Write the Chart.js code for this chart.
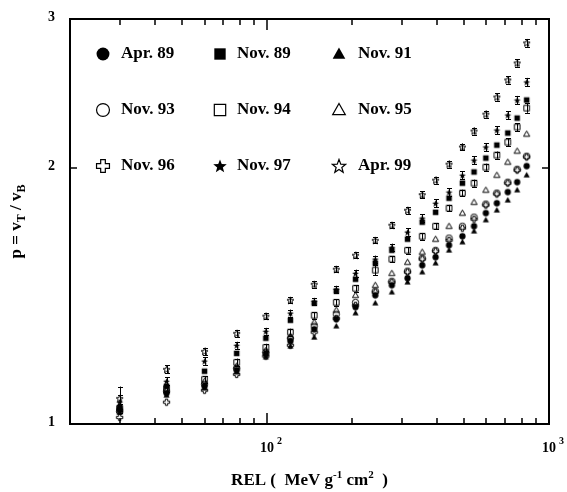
<!DOCTYPE html>
<html lang="en">
<head>
<meta charset="UTF-8" />
<title>p = vT / vB versus REL</title>
<script src="https://cdn.jsdelivr.net/npm/chart.js"></script>
<style>
  body { margin: 0; background: #fff; }
  #chart { display: block; }
</style>
</head>
<body>
<canvas id="chart" width="567" height="492"></canvas>
<script>
// REL (MeV g^-1 cm^2) of each measured column
var rel = [30, 44, 60, 78, 99, 121, 147, 176, 206, 242, 277, 315, 355, 396, 442, 493, 542, 597, 653, 714, 771, 833];

// p = vT / vB for each exposure
var apr89 = [1.041, 1.087, 1.108, 1.157, 1.208, 1.252, 1.293, 1.329, 1.373, 1.418, 1.457, 1.485, 1.538, 1.572, 1.624, 1.664, 1.710, 1.772, 1.820, 1.876, 1.927, 2.013];
var nov89 = [1.046, 1.108, 1.154, 1.211, 1.262, 1.325, 1.388, 1.434, 1.481, 1.547, 1.602, 1.651, 1.729, 1.776, 1.845, 1.922, 1.981, 2.057, 2.131, 2.202, 2.293, 2.408];
var nov91 = [1.032, 1.081, 1.102, 1.151, 1.199, 1.235, 1.265, 1.304, 1.351, 1.388, 1.430, 1.469, 1.510, 1.547, 1.602, 1.638, 1.687, 1.739, 1.786, 1.835, 1.886, 1.964];
var nov93 = [1.035, 1.093, 1.114, 1.163, 1.215, 1.262, 1.304, 1.347, 1.391, 1.434, 1.473, 1.514, 1.568, 1.602, 1.656, 1.710, 1.753, 1.816, 1.871, 1.927, 1.996, 2.068];
var nov94 = [1.043, 1.102, 1.129, 1.182, 1.231, 1.283, 1.343, 1.391, 1.445, 1.518, 1.564, 1.602, 1.664, 1.710, 1.796, 1.871, 1.922, 2.007, 2.074, 2.148, 2.238, 2.356];
var nov95 = [1.038, 1.096, 1.123, 1.170, 1.221, 1.269, 1.318, 1.362, 1.418, 1.457, 1.505, 1.551, 1.594, 1.651, 1.710, 1.772, 1.825, 1.886, 1.964, 2.035, 2.097, 2.196];
var nov96 = [1.018, 1.061, 1.096, 1.144, 1.202, 1.238, 1.283, 1.332, 1.380, 1.430, 1.469, 1.510, 1.564, 1.598, 1.646, 1.701, 1.743, 1.811, 1.866, 1.922, 1.991, 2.063];
var nov97 = [1.061, 1.123, 1.186, 1.238, 1.286, 1.351, 1.395, 1.441, 1.505, 1.564, 1.615, 1.683, 1.748, 1.820, 1.876, 1.964, 2.046, 2.120, 2.220, 2.312, 2.408, 2.529];
var apr99 = [1.072, 1.160, 1.218, 1.279, 1.340, 1.399, 1.461, 1.522, 1.581, 1.646, 1.715, 1.786, 1.863, 1.938, 2.024, 2.120, 2.214, 2.318, 2.428, 2.543, 2.663, 2.812];

// error bars (absolute)
var errApr99 = [0.035, 0.012, 0.012, 0.012, 0.012, 0.012, 0.013, 0.013, 0.014, 0.014, 0.015, 0.016, 0.017, 0.018, 0.019, 0.020, 0.021, 0.022, 0.024, 0.025, 0.027, 0.030];
var errNov97 = [0.020, 0.012, 0.012, 0.012, 0.012, 0.013, 0.013, 0.014, 0.015, 0.015, 0.016, 0.017, 0.018, 0.019, 0.020, 0.021, 0.022, 0.023, 0.024, 0.025, 0.027, 0.028];
var errNov94 = [0.012, 0.010, 0.010, 0.012, 0.012, 0.012, 0.012, 0.012, 0.013, 0.020, 0.013, 0.014, 0.015, 0.015, 0.016, 0.017, 0.018, 0.019, 0.020, 0.022, 0.024, 0.030];

// axis ticks
var xMajor = [100, 1000];
var xMajorExp = ["2", "3"];
var xMinor = [30, 40, 50, 60, 70, 80, 90, 200, 300, 400, 500, 600, 700, 800, 900];
var yLabels = [1, 2, 3];

// legend, row by row
var seriesNames = ["Apr. 89", "Nov. 89", "Nov. 91", "Nov. 93", "Nov. 94", "Nov. 95", "Nov. 96", "Nov. 97", "Apr. 99"];
var seriesShapes = ["circle", "square", "triangle", "circle", "square", "triangle", "cross", "star", "star"];
var seriesFilled = [true, true, true, false, false, false, false, true, false];
var seriesValues = [apr89, nov89, nov91, nov93, nov94, nov95, nov96, nov97, apr99];
var seriesErrors = [null, null, null, null, errNov94, null, null, errNov97, errApr99];

var FONT = "'Liberation Serif', 'Times New Roman', serif";

// draw a marker on its own small canvas, used as pointStyle
function makeMarker(shape, filled, size, lw, scale) {
  var c = document.createElement("canvas");
  c.width = size;
  c.height = size;
  var g = c.getContext("2d");
  var m = size / 2;
  var r = (size / 2 - lw) * (scale || 1);
  g.strokeStyle = "#000";
  g.fillStyle = "#000";
  g.lineWidth = lw;
  g.lineJoin = "miter";
  g.beginPath();
  if (shape === "circle") {
    g.arc(m, m, r, 0, Math.PI * 2);
  } else if (shape === "square") {
    g.rect(m - r * 0.88, m - r * 0.88, r * 1.76, r * 1.76);
  } else if (shape === "triangle") {
    g.moveTo(m, m - r);
    g.lineTo(m + r * 0.98, m + r * 0.72);
    g.lineTo(m - r * 0.98, m + r * 0.72);
    g.closePath();
  } else if (shape === "cross") {
    var w = r * 0.36;
    var pts = [[-w, -r], [w, -r], [w, -w], [r, -w], [r, w], [w, w], [w, r], [-w, r], [-w, w], [-r, w], [-r, -w], [-w, -w]];
    pts.forEach(function (p, i) {
      if (i === 0) g.moveTo(m + p[0], m + p[1]);
      else g.lineTo(m + p[0], m + p[1]);
    });
    g.closePath();
  } else if (shape === "star") {
    for (var i = 0; i < 10; i++) {
      var rr = i % 2 === 0 ? r : r * 0.42;
      var a = -Math.PI / 2 + (i * Math.PI) / 5;
      var px = m + rr * Math.cos(a);
      var py = m + 0.5 + rr * Math.sin(a);
      if (i === 0) g.moveTo(px, py);
      else g.lineTo(px, py);
    }
    g.closePath();
  }
  if (filled) g.fill();
  else g.stroke();
  return c;
}

var datasets = seriesNames.map(function (name, i) {
  var big = seriesShapes[i] === "star" ? 1.15 : 1;
  return {
    label: name,
    data: rel.map(function (x, j) {
      return { x: x, y: seriesValues[i][j] };
    }),
    pointStyle: makeMarker(seriesShapes[i], seriesFilled[i], 9, 1, big * 0.9),
    showLine: false,
    errors: seriesErrors[i]
  };
});

// error bars from the data arrays
var errorBars = {
  id: "errorBars",
  afterDatasetsDraw: function (chart) {
    var ctx = chart.ctx;
    var xs = chart.scales.x;
    var ys = chart.scales.y;
    ctx.save();
    ctx.strokeStyle = "#000";
    ctx.lineWidth = 1;
    chart.data.datasets.forEach(function (ds) {
      if (!ds.errors) return;
      ds.data.forEach(function (p, j) {
        var e = ds.errors[j];
        var px = Math.round(xs.getPixelForValue(p.x)) + 0.5;
        var y1 = ys.getPixelForValue(p.y + e);
        var y2 = ys.getPixelForValue(p.y - e);
        ctx.beginPath();
        ctx.moveTo(px, y1);
        ctx.lineTo(px, y2);
        ctx.moveTo(px - 2.5, Math.round(y1) + 0.5);
        ctx.lineTo(px + 2.5, Math.round(y1) + 0.5);
        ctx.moveTo(px - 2.5, Math.round(y2) + 0.5);
        ctx.lineTo(px + 2.5, Math.round(y2) + 0.5);
        ctx.stroke();
      });
    });
    ctx.restore();
  }
};

// text with super/subscripts, parts: [text, size, shift]
function drawParts(ctx, parts, x, y, align) {
  var total = 0;
  parts.forEach(function (p) {
    ctx.font = "bold " + p[1] + "px " + FONT;
    total += ctx.measureText(p[0]).width;
  });
  var cx = align === "center" ? x - total / 2 : x;
  ctx.textAlign = "left";
  ctx.textBaseline = "alphabetic";
  parts.forEach(function (p) {
    ctx.font = "bold " + p[1] + "px " + FONT;
    ctx.fillText(p[0], cx, y + p[2]);
    cx += ctx.measureText(p[0]).width;
  });
}

// frame, inward ticks, labels, titles, legend
var frame = {
  id: "frame",
  afterDraw: function (chart) {
    var ctx = chart.ctx;
    var a = chart.chartArea;
    var xs = chart.scales.x;
    var ys = chart.scales.y;
    ctx.save();
    ctx.fillStyle = "#000";
    ctx.strokeStyle = "#000";

    ctx.lineWidth = 2;
    ctx.strokeRect(a.left, a.top, a.right - a.left, a.bottom - a.top);

    // x ticks, top and bottom, pointing in
    var xt = xMinor.concat(xMajor);
    for (var k = 0; k < xt.length; k++) {
      var tx = Math.round(xs.getPixelForValue(xt[k]));
      var len = xMajor.indexOf(xt[k]) >= 0 ? 11 : 6;
      ctx.fillRect(tx - 0.75, a.bottom - len, 1.5, len);
      ctx.fillRect(tx - 0.75, a.top, 1.5, len);
    }
    // y ticks, left and right
    yLabels.forEach(function (v) {
      var ty = Math.round(ys.getPixelForValue(v));
      ctx.fillRect(a.left, ty - 0.75, 7, 1.5);
      ctx.fillRect(a.right - 7, ty - 0.75, 7, 1.5);
    });

    // y tick labels
    ctx.font = "bold 14px " + FONT;
    ctx.textAlign = "right";
    ctx.textBaseline = "middle";
    yLabels.forEach(function (v) {
      ctx.fillText(String(v), 55, ys.getPixelForValue(v) - 2);
    });

    // x tick labels 10^n
    xMajor.forEach(function (v, i) {
      var px = xs.getPixelForValue(v);
      ctx.font = "bold 14px " + FONT;
      ctx.textAlign = "center";
      ctx.textBaseline = "alphabetic";
      ctx.fillText("10", px, 452);
      ctx.font = "bold 10px " + FONT;
      ctx.textAlign = "left";
      ctx.fillText(xMajorExp[i], px + 10, 444);
    });

    // axis titles
    drawParts(ctx, [["REL", 17, 0], [" (  MeV g", 17, 0], ["-1", 11, -7], [" cm", 17, 0], ["2", 11, -7], ["  )", 17, 0]], (a.left + a.right) / 2, 485, "center");

    ctx.save();
    ctx.translate(21, (a.top + a.bottom) / 2);
    ctx.rotate(-Math.PI / 2);
    drawParts(ctx, [["p = v", 17, 0], ["T", 12, 4], [" / v", 17, 0], ["B", 12, 4]], 0, 0, "center");
    ctx.restore();

    // legend, 3 x 3
    var colMarker = [103, 220, 339];
    var colText = [121, 237, 358];
    var rowY = [54, 110, 166];
    seriesNames.forEach(function (name, i) {
      var r = Math.floor(i / 3);
      var c = i % 3;
      var big = seriesShapes[i] === "star" ? 1.1 : 1;
      var img = makeMarker(seriesShapes[i], seriesFilled[i], 16, 1.2, big * 0.95);
      ctx.drawImage(img, colMarker[c] - 8, rowY[r] - 8);
      ctx.font = "bold 17px " + FONT;
      ctx.textAlign = "left";
      ctx.textBaseline = "middle";
      ctx.fillText(name, colText[c], rowY[r]);
    });

    ctx.restore();
  }
};

new Chart(document.getElementById("chart"), {
  type: "scatter",
  data: { datasets: datasets },
  options: {
    responsive: false,
    animation: false,
    layout: { padding: { left: 70, right: 18, top: 19, bottom: 68 } },
    scales: {
      x: { type: "logarithmic", min: 20, max: 1000, display: false },
      y: { type: "logarithmic", min: 1, max: 3, display: false }
    },
    plugins: {
      legend: { display: false },
      tooltip: { enabled: false }
    }
  },
  plugins: [errorBars, frame]
});
</script>
</body>
</html>
